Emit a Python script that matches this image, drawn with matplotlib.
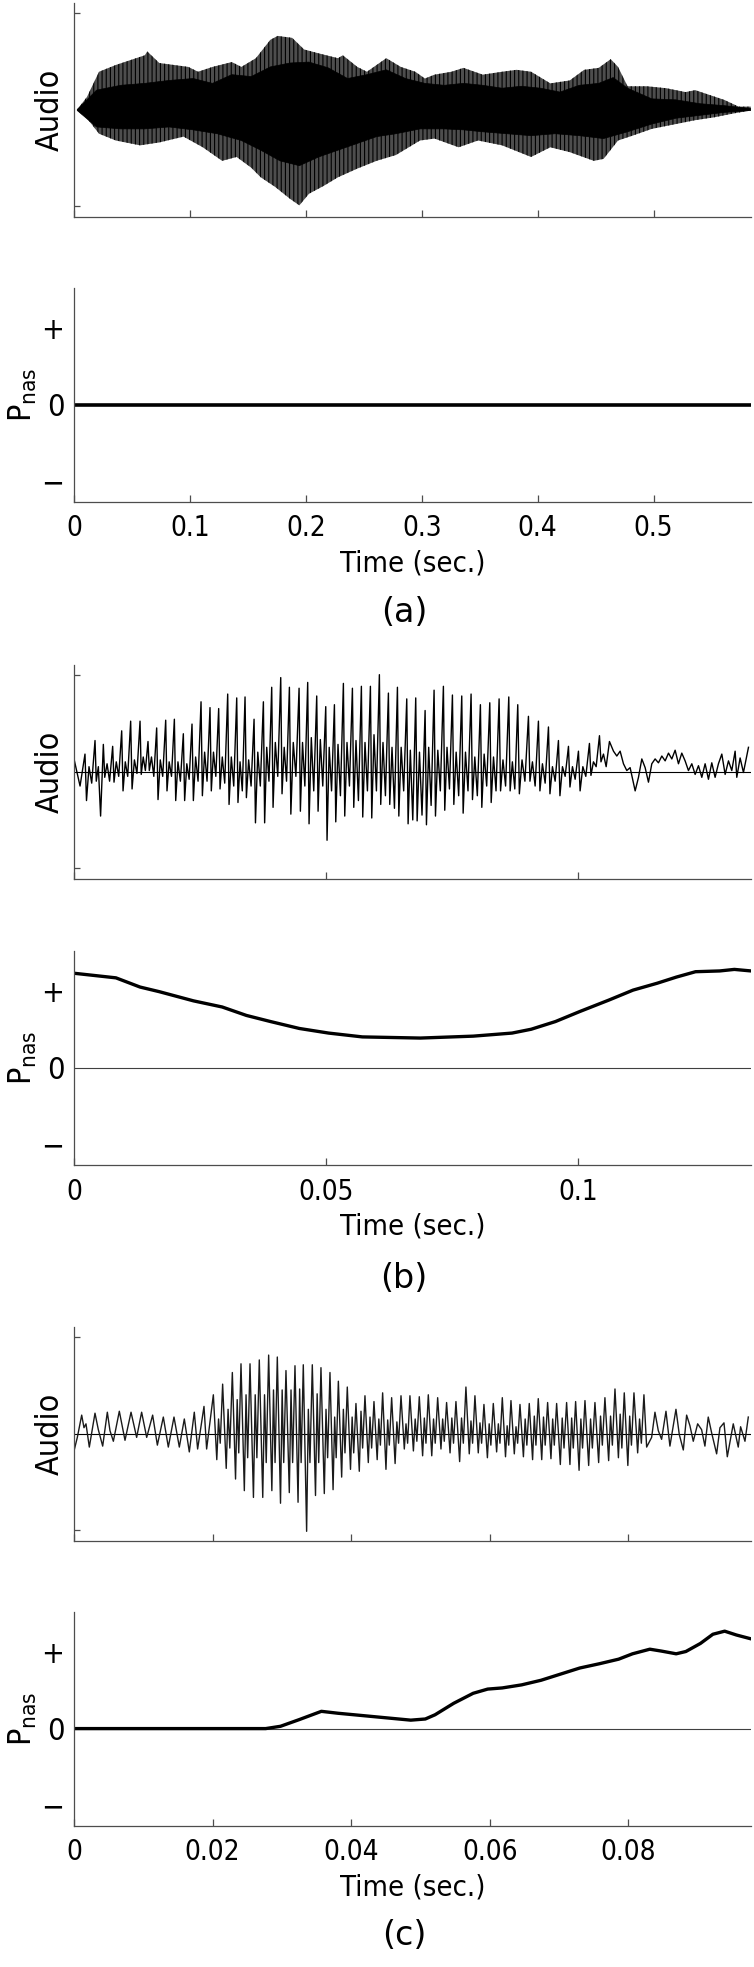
import numpy as np
import matplotlib
matplotlib.use('Agg')
import matplotlib.pyplot as plt
from matplotlib import font_manager as fm

# the original figure uses a narrow Helvetica; take a narrow/condensed face if there is one
narrow = [f for f in fm.fontManager.ttflist
          if any(k in f.fname.lower() for k in ('narrow', 'condensed'))
          and f.style == 'normal' and f.weight in (400, 'normal', 'regular')
          and 'mono' not in f.fname.lower() and 'serif' not in f.fname.lower()]
if narrow:
    FONT = narrow[0].name
    plt.rcParams['font.stretch'] = narrow[0].stretch
else:
    FONT = 'Liberation Sans'
plt.rcParams['font.family'] = [FONT, 'Liberation Sans', 'DejaVu Sans']
plt.rcParams['mathtext.fontset'] = 'custom'
plt.rcParams['mathtext.rm'] = FONT
plt.rcParams['hatch.linewidth'] = 0.8

# ---------------- panel (a) : long utterance, envelopes of the audio ----------------
A_XMAX = 0.584
A_XTICKS = [0, 0.1, 0.2, 0.3, 0.4, 0.5]
A_XLABELS = ['0', '0.1', '0.2', '0.3', '0.4', '0.5']

A_OUT_UP_T = [0.0028, 0.0112, 0.0216, 0.0361, 0.0611, 0.0632, 0.0736, 0.0986, 0.1070, 0.1195,
              0.1361, 0.1444, 0.1569, 0.1694, 0.1757, 0.1882, 0.1985, 0.2110, 0.2277, 0.2319,
              0.2444, 0.2527, 0.2694, 0.2819, 0.2944, 0.3027, 0.3110, 0.3256, 0.3360, 0.3526,
              0.3693, 0.3818, 0.3943, 0.4109, 0.4276, 0.4401, 0.4526, 0.4630, 0.4693, 0.4775,
              0.4942, 0.5109, 0.5275, 0.5359, 0.5483, 0.5608, 0.5733, 0.5838]
A_OUT_UP_V = [0.0, 0.13, 0.39, 0.46, 0.56, 0.60, 0.48, 0.44, 0.39, 0.44,
              0.49, 0.44, 0.53, 0.72, 0.76, 0.74, 0.62, 0.58, 0.53, 0.56,
              0.44, 0.39, 0.53, 0.44, 0.39, 0.32, 0.36, 0.39, 0.43, 0.36,
              0.39, 0.41, 0.39, 0.27, 0.30, 0.41, 0.43, 0.52, 0.44, 0.24,
              0.24, 0.22, 0.18, 0.20, 0.15, 0.10, 0.03, 0.03]
A_OUT_LO_T = [0.0028, 0.0112, 0.0216, 0.0361, 0.0570, 0.0736, 0.0945, 0.1111, 0.1278, 0.1403,
              0.1528, 0.1611, 0.1736, 0.1861, 0.1944, 0.2027, 0.2152, 0.2277, 0.2444, 0.2610,
              0.2777, 0.2985, 0.3110, 0.3318, 0.3485, 0.3693, 0.3943, 0.4109, 0.4276, 0.4484,
              0.4568, 0.4693, 0.4818, 0.4984, 0.5192, 0.5359, 0.5525, 0.5692, 0.5838]
A_OUT_LO_V = [-0.01, -0.09, -0.25, -0.32, -0.37, -0.34, -0.28, -0.39, -0.53, -0.49,
              -0.60, -0.70, -0.80, -0.92, -0.99, -0.87, -0.79, -0.70, -0.61, -0.53,
              -0.47, -0.32, -0.30, -0.39, -0.32, -0.37, -0.49, -0.39, -0.44, -0.53,
              -0.51, -0.32, -0.27, -0.20, -0.15, -0.11, -0.08, -0.04, -0.01]
A_IN_UP_T = [0.0028, 0.0195, 0.0403, 0.0611, 0.0820, 0.1028, 0.1195, 0.1361, 0.1528, 0.1694,
             0.1861, 0.2027, 0.2194, 0.2360, 0.2527, 0.2694, 0.2860, 0.3027, 0.3193, 0.3360,
             0.3526, 0.3693, 0.3859, 0.4026, 0.4192, 0.4359, 0.4526, 0.4651, 0.4775, 0.4984,
             0.5192, 0.5400, 0.5608, 0.5838]
A_IN_UP_V = [0.0, 0.20, 0.25, 0.27, 0.30, 0.32, 0.27, 0.36, 0.34, 0.44,
             0.48, 0.49, 0.43, 0.32, 0.36, 0.41, 0.32, 0.27, 0.25, 0.27,
             0.25, 0.22, 0.24, 0.22, 0.18, 0.25, 0.27, 0.33, 0.22, 0.11,
             0.10, 0.06, 0.04, 0.01]
A_IN_LO_T = [0.0028, 0.0195, 0.0403, 0.0611, 0.0820, 0.1028, 0.1236, 0.1444, 0.1611, 0.1777,
             0.1944, 0.2110, 0.2277, 0.2444, 0.2610, 0.2777, 0.2985, 0.3193, 0.3360, 0.3526,
             0.3734, 0.3943, 0.4151, 0.4359, 0.4568, 0.4775, 0.4984, 0.5192, 0.5400, 0.5608,
             0.5838]
A_IN_LO_V = [-0.01, -0.18, -0.20, -0.20, -0.18, -0.21, -0.25, -0.32, -0.42, -0.53,
             -0.58, -0.49, -0.42, -0.35, -0.28, -0.25, -0.20, -0.20, -0.21, -0.23,
             -0.25, -0.27, -0.25, -0.27, -0.30, -0.23, -0.15, -0.09, -0.06, -0.03,
             -0.01]
A_PNAS_T = [0.0, 0.584]
A_PNAS_V = [0.0, 0.0]

# ---------------- panel (b) ----------------
B_XMAX = 0.1343
B_XTICKS = [0, 0.05, 0.1]
B_XLABELS = ['0', '0.05', '0.1']

B_LEAD_T = [0.0, 0.0012]
B_LEAD_V = [0.13, -0.15]
# one entry per glottal pulse: peak time, peak, following trough, bump, dip
B_PEAK_T = [0.00218, 0.00417, 0.00582, 0.00767, 0.00946, 0.01124, 0.01310, 0.01468, 0.01640, 0.01819,
            0.01991, 0.02169, 0.02341, 0.02520, 0.02698, 0.02870, 0.03049, 0.03228, 0.03393, 0.03572,
            0.03757, 0.03922, 0.04101, 0.04273, 0.04465, 0.04636, 0.04815, 0.04994, 0.05166, 0.05344,
            0.05523, 0.05701, 0.05880, 0.06058, 0.06237, 0.06416, 0.06601, 0.06779, 0.06965, 0.07143,
            0.07328, 0.07507, 0.07692, 0.07877, 0.08062, 0.08248, 0.08433, 0.08625, 0.08803, 0.09015,
            0.09213, 0.09412, 0.09610, 0.09809, 0.10007, 0.10225, 0.10424]
B_PEAK = [0.18, 0.32, 0.28, 0.26, 0.42, 0.52, 0.52, 0.31, 0.45, 0.53,
          0.54, 0.39, 0.49, 0.72, 0.66, 0.65, 0.80, 0.76, 0.77, 0.54,
          0.72, 0.87, 0.97, 0.87, 0.86, 0.92, 0.78, 0.67, 0.69, 0.91,
          0.86, 0.88, 0.88, 1.00, 0.81, 0.87, 0.75, 0.76, 0.63, 0.84,
          0.88, 0.79, 0.78, 0.80, 0.69, 0.71, 0.75, 0.77, 0.69, 0.57,
          0.52, 0.46, 0.32, 0.26, 0.21, 0.29, 0.37]
B_TROUGH = [-0.30, -0.10, -0.06, -0.11, -0.20, -0.18, -0.03, 0.01, -0.29, -0.20,
            -0.30, -0.30, -0.30, -0.25, -0.20, -0.18, -0.34, -0.32, -0.27, -0.53,
            -0.53, -0.37, -0.23, -0.44, -0.41, -0.54, -0.41, -0.71, -0.52, -0.46,
            -0.37, -0.47, -0.48, -0.34, -0.34, -0.46, -0.54, -0.51, -0.55, -0.46,
            -0.40, -0.34, -0.43, -0.29, -0.37, -0.32, -0.20, -0.20, -0.23, -0.10,
            -0.20, -0.23, -0.25, -0.16, -0.20, -0.04, 0.10]
B_BUMP = [0.05, 0.05, 0.08, 0.10, 0.10, 0.12, 0.15, 0.15, 0.12, 0.10,
          0.10, 0.08, 0.15, 0.20, 0.20, 0.15, 0.15, 0.10, 0.12, 0.20,
          0.25, 0.30, 0.25, 0.30, 0.30, 0.35, 0.33, 0.25, 0.28, 0.30,
          0.32, 0.30, 0.38, 0.30, 0.25, 0.25, 0.22, 0.20, 0.25, 0.22,
          0.25, 0.20, 0.20, 0.15, 0.18, 0.15, 0.12, 0.10, 0.12, 0.10,
          0.08, 0.05, 0.05, 0.05, 0.05, 0.10, 0.18]
B_DIP = [-0.12, -0.46, -0.10, -0.05, -0.05, -0.02, 0.01, -0.05, -0.05, -0.05,
         -0.10, -0.08, -0.10, -0.10, -0.05, -0.12, -0.15, -0.20, -0.15, -0.15,
         -0.10, -0.05, -0.10, -0.05, -0.15, -0.20, -0.15, -0.20, -0.25, -0.15,
         -0.30, -0.20, -0.20, -0.25, -0.38, -0.20, -0.50, -0.45, -0.35, -0.20,
         -0.18, -0.25, -0.20, -0.25, -0.15, -0.20, -0.15, -0.18, -0.10, -0.15,
         -0.12, -0.10, -0.05, -0.08, -0.05, 0.05, 0.05]
B_TAIL_T = [0.10622, 0.10702, 0.10768, 0.10834, 0.10900, 0.10966, 0.11032, 0.11132, 0.11198, 0.11264,
            0.11330, 0.11396, 0.11462, 0.11528, 0.11594, 0.11661, 0.11727, 0.11793, 0.11859, 0.11925,
            0.11991, 0.12057, 0.12123, 0.12189, 0.12256, 0.12322, 0.12388, 0.12454, 0.12520, 0.12586,
            0.12652, 0.12718, 0.12784, 0.12851, 0.12917, 0.12983, 0.13049, 0.13115, 0.13148, 0.13214,
            0.13280, 0.13380]
B_TAIL_V = [0.31, 0.21, 0.16, 0.21, 0.08, 0.01, 0.04, -0.20, -0.06, 0.13,
            0.04, -0.11, 0.08, 0.13, 0.09, 0.16, 0.11, 0.19, 0.13, 0.22,
            0.08, 0.19, 0.11, 0.01, 0.08, -0.03, 0.06, -0.06, 0.08, -0.08,
            0.09, -0.06, 0.08, 0.18, -0.03, 0.11, 0.01, 0.21, -0.06, 0.14,
            -0.01, 0.25]
B_PNAS_T = [0.0, 0.00832, 0.0131, 0.0169, 0.0237, 0.0294, 0.0342, 0.0390, 0.0447, 0.0505,
            0.0572, 0.0687, 0.0792, 0.0869, 0.0907, 0.0955, 0.1003, 0.1061, 0.1109, 0.1157,
            0.1195, 0.1233, 0.1281, 0.1310, 0.1343]
B_PNAS_V = [1.23, 1.17, 1.05, 0.99, 0.87, 0.79, 0.68, 0.60, 0.51, 0.45,
            0.40, 0.385, 0.41, 0.45, 0.50, 0.60, 0.73, 0.88, 1.01, 1.10,
            1.18, 1.25, 1.26, 1.28, 1.26]

# ---------------- panel (c) ----------------
C_XMAX = 0.0977
C_XTICKS = [0, 0.02, 0.04, 0.06, 0.08]
C_XLABELS = ['0', '0.02', '0.04', '0.06', '0.08']

C_LEAD_T = [0.0, 0.00048, 0.00111, 0.00144, 0.00173, 0.00221, 0.00303, 0.00351, 0.00414, 0.00481,
            0.00519, 0.00568, 0.00654, 0.00736, 0.00823, 0.00904, 0.00976, 0.01049, 0.01135, 0.01203,
            0.01289, 0.01361, 0.01443, 0.01520, 0.01592, 0.01664, 0.01736, 0.01784, 0.01876, 0.01914]
C_LEAD_V = [-0.18, -0.04, 0.19, 0.06, 0.10, -0.14, 0.21, 0.04, -0.13, 0.22,
            0.03, -0.08, 0.23, -0.07, 0.22, -0.04, 0.22, -0.04, 0.19, -0.12,
            0.17, -0.14, 0.17, -0.14, 0.15, -0.19, 0.22, -0.16, 0.28, -0.16]
# one entry per period: main peak time, main peak, deep trough, second peak, shallow trough
C_PEAK_T = [0.02011, 0.02145, 0.02285, 0.02410, 0.02540, 0.02674, 0.02809, 0.02934, 0.03059, 0.03189,
            0.03309, 0.03439, 0.03564, 0.03694, 0.03815, 0.03944, 0.04069, 0.04199, 0.04329, 0.04454,
            0.04584, 0.04719, 0.04848, 0.04983, 0.05113, 0.05248, 0.05377, 0.05512, 0.05656, 0.05786,
            0.05916, 0.06051, 0.06181, 0.06306, 0.06436, 0.06570, 0.06700, 0.06835, 0.06965, 0.07109,
            0.07239, 0.07374, 0.07518, 0.07662, 0.07807, 0.07941, 0.08081]
C_PEAK = [0.40, 0.51, 0.63, 0.72, 0.72, 0.76, 0.81, 0.79, 0.65, 0.70,
          0.71, 0.71, 0.68, 0.63, 0.54, 0.48, 0.31, 0.39, 0.33, 0.42,
          0.37, 0.39, 0.39, 0.38, 0.40, 0.37, 0.32, 0.33, 0.48, 0.39,
          0.30, 0.31, 0.37, 0.34, 0.30, 0.31, 0.36, 0.32, 0.31, 0.32,
          0.33, 0.34, 0.32, 0.37, 0.46, 0.42, 0.42]
C_TROUGH = [-0.27, -0.36, -0.47, -0.59, -0.66, -0.66, -0.59, -0.72, -0.61, -0.71,
            -1.01, -0.64, -0.62, -0.58, -0.45, -0.37, -0.39, -0.30, -0.27, -0.37,
            -0.31, -0.16, -0.18, -0.23, -0.23, -0.16, -0.20, -0.29, -0.21, -0.20,
            -0.25, -0.19, -0.24, -0.21, -0.24, -0.27, -0.27, -0.26, -0.32, -0.32,
            -0.38, -0.33, -0.30, -0.28, -0.25, -0.33, -0.20]
C_PEAK2 = [0.15, 0.25, 0.35, 0.40, 0.40, 0.40, 0.45, 0.45, 0.45, 0.46,
           0.25, 0.41, 0.25, 0.17, 0.25, 0.17, 0.23, 0.17, 0.15, 0.14,
           0.12, 0.10, 0.15, 0.16, 0.15, 0.15, 0.16, 0.16, 0.13, 0.11,
           0.10, 0.10, 0.08, 0.07, 0.15, 0.18, 0.17, 0.15, 0.16, 0.16,
           0.15, 0.15, 0.18, 0.18, 0.20, 0.18, 0.15]
C_TROUGH2 = [-0.10, -0.15, -0.20, -0.25, -0.25, -0.30, -0.30, -0.30, -0.30, -0.30,
             -0.30, -0.30, -0.25, -0.25, -0.20, -0.20, -0.15, -0.15, -0.12, -0.12,
             -0.10, -0.10, -0.08, -0.10, -0.10, -0.08, -0.10, -0.10, -0.10, -0.10,
             -0.12, -0.10, -0.12, -0.10, -0.12, -0.12, -0.12, -0.12, -0.15, -0.15,
             -0.15, -0.15, -0.12, -0.12, -0.15, -0.12, -0.10]
C_TAIL_T = [0.08225, 0.08264, 0.08336, 0.08384, 0.08432, 0.08480, 0.08543, 0.08600, 0.08687, 0.08735,
            0.08793, 0.08841, 0.08889, 0.08937, 0.09000, 0.09057, 0.09105, 0.09153, 0.09201, 0.09274,
            0.09322, 0.09380, 0.09428, 0.09514, 0.09586, 0.09620, 0.09683, 0.09731]
C_TAIL_V = [0.40, -0.14, -0.04, 0.22, 0.03, -0.06, 0.23, -0.13, 0.25, -0.01,
            -0.17, 0.19, 0.08, -0.08, 0.10, 0.04, -0.13, 0.17, 0.01, -0.21,
            0.06, 0.11, -0.24, 0.10, -0.14, 0.07, -0.08, 0.17]
C_PNAS_T = [0.0, 0.02766, 0.0298, 0.0325, 0.0357, 0.0381, 0.0416, 0.0451, 0.0486, 0.0507,
            0.0521, 0.0548, 0.0576, 0.0597, 0.0618, 0.0646, 0.0674, 0.0702, 0.0730, 0.0758,
            0.0786, 0.0806, 0.0831, 0.0848, 0.0869, 0.0883, 0.0904, 0.0922, 0.0939, 0.0956,
            0.0977]
C_PNAS_V = [0.0, 0.0, 0.03, 0.117, 0.225, 0.20, 0.17, 0.14, 0.11, 0.125,
            0.18, 0.33, 0.46, 0.515, 0.53, 0.57, 0.63, 0.71, 0.79, 0.845,
            0.905, 0.975, 1.035, 1.01, 0.975, 1.005, 1.11, 1.23, 1.27, 1.22,
            1.17]

PANEL_TAGS = ['(a)', '(b)', '(c)']


def periodic_wave(lead_t, lead_v, pk_t, cols, tail_t, tail_v, lags):
    """Chain lead points, per-period features and tail points into one trace."""
    t, v = list(lead_t), list(lead_v)
    nxt = list(pk_t[1:]) + [tail_t[0]]
    for i, t0 in enumerate(pk_t):
        per = nxt[i] - t0
        t += [t0] + [t0 + f * per for f in lags]
        v += [c[i] for c in cols]
    t += list(tail_t)
    v += list(tail_v)
    return np.array(t), np.array(v)


def style(ax, xmax, xticks):
    ax.set_xlim(0, xmax)
    ax.set_xticks(xticks)
    for s in ('top', 'right'):
        ax.spines[s].set_visible(False)
    for s in ('left', 'bottom'):
        ax.spines[s].set_color('0.3')
        ax.spines[s].set_linewidth(0.9)
    ax.tick_params(direction='in', length=5, width=0.9, color='0.3', labelsize=20, pad=9)


def audio_axes(ax, xmax, xticks):
    style(ax, xmax, xticks)
    ax.set_ylim(-1.11, 1.10)
    ax.set_yticks([-1, 1])
    ax.set_yticklabels([])
    ax.set_xticklabels([])
    ax.tick_params(axis='y', length=4)
    ax.set_ylabel('Audio', fontsize=23)
    ax.yaxis.set_label_coords(-0.012, 0.5)


def pnas_axes(ax, xmax, xticks, xlabels):
    style(ax, xmax, xticks)
    ax.set_ylim(-1.27, 1.52)
    ax.set_yticks([-1, 0, 1])
    ax.set_yticklabels(['\u2212', '0', '+'])
    ax.tick_params(axis='y', length=0, pad=7, labelsize=22)
    ax.set_xticklabels(xlabels)
    ax.set_ylabel(r'$\mathrm{P}_{\mathrm{nas}}$', fontsize=23)
    ax.yaxis.set_label_coords(-0.052, 0.5)
    ax.set_xlabel('Time (sec.)', fontsize=21, labelpad=5)


W, H = 754, 1967
fig = plt.figure(figsize=(W / 100, H / 100), dpi=100)
left, width, hgt = 74 / W, 677 / W, 214 / H
tops = [3, 288, 665, 951, 1327, 1612]
axs = [fig.add_axes([left, 1 - (tp + 214) / H, width, hgt]) for tp in tops]

# (a)
ax = axs[0]
audio_axes(ax, A_XMAX, A_XTICKS)
ax.fill(np.concatenate([A_OUT_UP_T, A_OUT_LO_T[::-1]]),
        np.concatenate([A_OUT_UP_V, A_OUT_LO_V[::-1]]),
        facecolor='0.3', edgecolor='black', hatch='||||', lw=0)
ax.fill(np.concatenate([A_IN_UP_T, A_IN_LO_T[::-1]]),
        np.concatenate([A_IN_UP_V, A_IN_LO_V[::-1]]),
        facecolor='black', lw=0.5, edgecolor='black')
ax = axs[1]
pnas_axes(ax, A_XMAX, A_XTICKS, A_XLABELS)
ax.plot(A_PNAS_T, A_PNAS_V, color='black', lw=2.6, solid_capstyle='butt')

# (b)
ax = axs[2]
audio_axes(ax, B_XMAX, B_XTICKS)
bt, bv = periodic_wave(B_LEAD_T, B_LEAD_V, B_PEAK_T,
                       [B_PEAK, B_TROUGH, B_BUMP, B_DIP],
                       B_TAIL_T, B_TAIL_V, (0.15, 0.40, 0.67))
ax.axhline(0, color='black', lw=0.8)
ax.plot(bt, bv, color='black', lw=1.0)
ax = axs[3]
pnas_axes(ax, B_XMAX, B_XTICKS, B_XLABELS)
ax.axhline(0, color='0.25', lw=0.8)
ax.plot(B_PNAS_T, B_PNAS_V, color='black', lw=2.4)

# (c)
ax = axs[4]
audio_axes(ax, C_XMAX, C_XTICKS)
ct, cv = periodic_wave(C_LEAD_T, C_LEAD_V, C_PEAK_T,
                       [C_PEAK, C_TROUGH, C_PEAK2, C_TROUGH2],
                       C_TAIL_T, C_TAIL_V, (0.37, 0.56, 0.74))
ax.axhline(0, color='black', lw=0.8)
ax.plot(ct, cv, color='0.1', lw=1.0)
ax = axs[5]
pnas_axes(ax, C_XMAX, C_XTICKS, C_XLABELS)
ax.axhline(0, color='0.25', lw=0.8)
ax.plot(C_PNAS_T, C_PNAS_V, color='black', lw=2.4)

for tag, yc in zip(PANEL_TAGS, [612, 1279, 1935]):
    fig.text(404 / W, 1 - yc / H, tag, ha='center', va='center',
             fontsize=24, family='DejaVu Sans', stretch='normal')

fig.savefig('out.png', dpi=100)
